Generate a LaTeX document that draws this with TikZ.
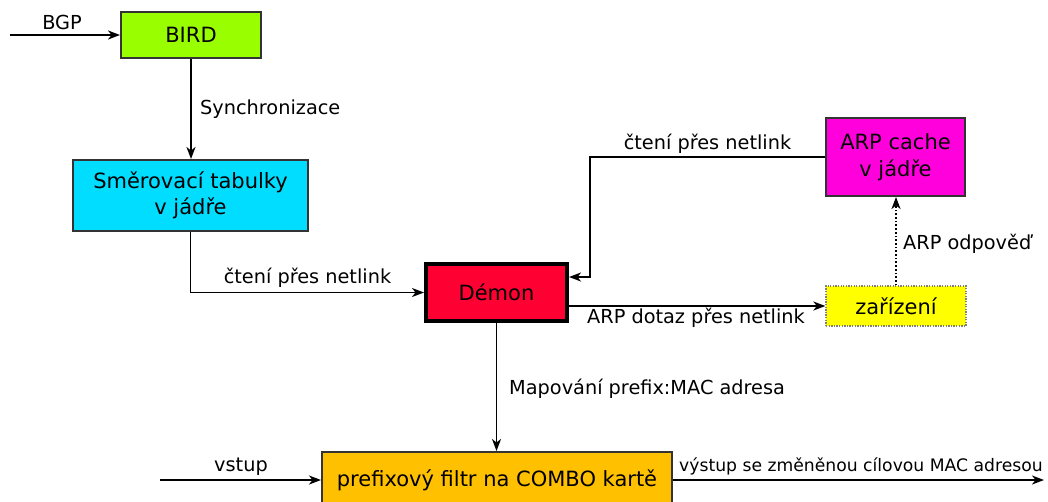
\documentclass[tikz,border=0pt]{standalone}
\usepackage{fontspec}
\setmainfont{DejaVu Sans}
\usetikzlibrary{arrows.meta}
\definecolor{cbird}{HTML}{99FF00}
\definecolor{csmer}{HTML}{00DDFF}
\definecolor{cdemon}{HTML}{FF0033}
\definecolor{carp}{HTML}{FF00DD}
\definecolor{czar}{HTML}{FFFF00}
\definecolor{cpref}{HTML}{FFC000}
\definecolor{cborder}{HTML}{333333}
\tikzset{
  box/.style={draw=cborder, line width=2pt, align=center, inner sep=0pt,
    font=\fontsize{21}{26.5}\selectfont},
  lbl/.style={inner sep=0pt, font=\fontsize{19.3}{23}\selectfont},
  arr/.style={line width=1.7pt, -{Stealth[length=12pt,width=9pt,inset=3.5pt]}},
}
\begin{document}
\begin{tikzpicture}[x=1pt,y=-1pt]
\useasboundingbox (0,0) rectangle (1048,501);
\clip (0,0) rectangle (1048,501);
% boxes
\node[box, fill=cbird, minimum width=140pt, minimum height=46pt] (bird) at (191,35) {BIRD};
\node[box, fill=csmer, minimum width=235pt, minimum height=71pt] (smer) at (190.5,195.5) {Směrovací tabulky\\v jádře};
\node[box, fill=cdemon, draw=black, line width=4pt, minimum width=141pt, minimum height=57pt] (demon) at (496.5,292.5) {Démon};
\node[box, fill=carp, minimum width=139pt, minimum height=78pt] (arp) at (895.5,157) {ARP cache\\v jádře};
\node[box, fill=czar, draw=gray, line width=1.3pt, dash pattern=on 1.3pt off 1.3pt, minimum width=140pt, minimum height=40pt] (zar) at (896,306) {zařízení};
\node[box, fill=cpref, minimum width=350pt, minimum height=52pt, text depth=0pt] (pref) at (497,478) {prefixový filtr na COMBO kartě};
% free ends
\coordinate (bgpin) at (10,35);
\coordinate (vin) at (160,480);
\coordinate (vout) at (1044,480);
% connectors
\draw[arr] (bgpin) -- (bird.west);
\draw[arr] (bird.south) -- (bird.south |- smer.north);
\draw[arr] (smer.south) |- (demon.west);
\draw[arr] (arp.west) -- ++(-235,0) |- ([yshift=15.5pt]demon.east);
\draw[arr] (demon.east |- zar.west) -- (zar.west);
\draw[arr, dotted, line width=2pt] (zar.north) -- (zar.north |- arp.south);
\draw[arr] (demon.south) -- (demon.south |- pref.north);
\draw[arr] (vin) -- (pref.west |- vin);
\draw[arr] (pref.east |- vout) -- (vout);
% labels
\node[lbl, anchor=base] (lbgp) at (62,29.3) {BGP};
\node[lbl, anchor=base west] (lsync) at (200,114.3) {Synchronizace};
\node[lbl, anchor=base] (lcten1) at (307.5,283.3) {čtení přes netlink};
\node[lbl, anchor=base] (lcten2) at (707.5,149.3) {čtení přes netlink};
\node[lbl, anchor=base] (ldotaz) at (696,323.3) {ARP dotaz přes netlink};
\node[lbl, anchor=base west] (lodp) at (903,249.3) {ARP odpověď};
\node[lbl, anchor=base west] (lmap) at (509,394) {Mapování prefix:MAC adresa};
\node[lbl, anchor=base] (lvstup) at (241,471.7) {vstup};
\node[lbl, anchor=base west, font=\fontsize{17.2}{20}\selectfont] (lvystup) at (679,471.7) {výstup se změněnou cílovou MAC adresou};
\end{tikzpicture}
\end{document}
